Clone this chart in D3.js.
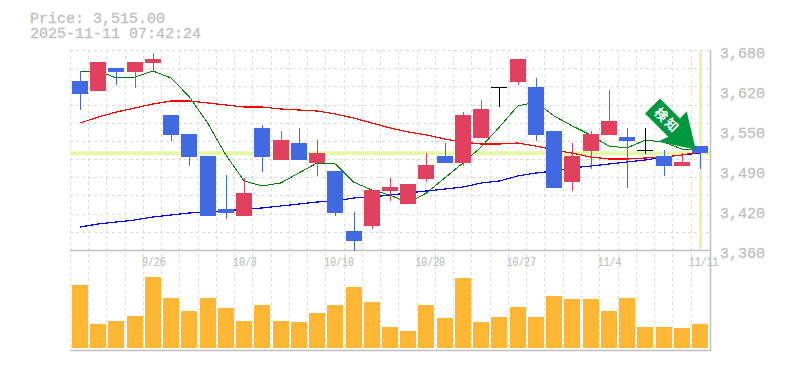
<!DOCTYPE html>
<html>
<head>
<meta charset="utf-8">
<script src="https://cdn.jsdelivr.net/npm/d3@7"></script>
<style>
  body { margin: 0; background: #fff; }
  text { font-family: "Liberation Mono", monospace; fill: #c0c0c0; }
</style>
</head>
<body>
<svg id="chart" width="785" height="370" style="display:block"></svg>
<script>
// Daily candles, close > open is red, close < open is blue, flat is black
var dates = ["9/19","9/22","9/24","9/25","9/26","9/29","9/30","10/1","10/2","10/3","10/6","10/7","10/8","10/9","10/10","10/14","10/15","10/16","10/17","10/20","10/21","10/22","10/23","10/24","10/27","10/28","10/29","10/30","10/31","11/4","11/5","11/6","11/7","11/10","11/11"];
var opens = [3630.4,3614.4,3651.2,3644.8,3659.2,3576,3545.6,3510.4,3425.6,3414.4,3555.2,3504,3531.2,3499.2,3486.4,3390.4,3398.4,3454.4,3433.6,3473.6,3510.4,3499.2,3539.2,3620.8,3628.8,3620.8,3550.4,3468.8,3518.4,3544,3540.8,3520,3510.4,3494.4,3526.4];
var highs = [3646.4,3660.8,3651.2,3660.8,3675.2,3576,3545.6,3510.4,3480,3475.2,3560,3550.4,3555.2,3536,3486.4,3420.8,3456,3475.2,3465.6,3515,3531.2,3580.8,3600,3620.8,3665.6,3635.2,3550.4,3531.2,3550.4,3616,3555.2,3555.2,3520,3515,3526.4];
var lows = [3584,3614.4,3624,3619.2,3644.8,3534.4,3494.4,3414.4,3409.6,3414.4,3484.8,3504,3504,3478.4,3414.4,3358.4,3393.6,3438.4,3433.6,3468.8,3499.2,3494.4,3539.2,3588.8,3624,3534.4,3459.2,3454.4,3489.6,3544,3459.2,3513.6,3478.4,3494.4,3489.6];
var closes = [3609.6,3660.8,3644.8,3660.8,3665.6,3544,3508.8,3414.4,3419.2,3451.2,3508.8,3536,3504,3515,3419.2,3374.4,3456,3460.8,3465.6,3496,3499.2,3576,3585.6,3620.8,3665.6,3544,3459.2,3510.4,3545.6,3566.4,3534.4,3520,3494.4,3500.8,3515];

// Moving averages
var maShort = [3646.4,3646.4,3635.2,3636.8,3646.4,3635.2,3604.8,3563.2,3512,3470.4,3462.4,3467.2,3483.2,3499.2,3497.6,3468.8,3456,3448,3435.2,3451.2,3475.2,3499.2,3524.8,3556.8,3590.4,3596.8,3574.4,3558.4,3544,3526.4,3523.2,3536,3532.8,3521.6,3520];
var maMid = [3563.2,3572.8,3580.8,3587.2,3593.6,3598.4,3598.4,3595.2,3592,3588.8,3588.8,3585.6,3584,3582.4,3577.6,3571.2,3563.2,3555.2,3548.8,3544,3537.6,3532.8,3529.6,3529.6,3531.2,3526.4,3520,3515,3508.8,3505.6,3505.6,3507.2,3508.8,3512,3516.8];
var maLong = [3396.8,3401.6,3404.8,3408,3412.8,3416,3419.2,3420.8,3422.4,3425.6,3427.2,3430.4,3433.6,3436.8,3438.4,3443.2,3444.8,3448,3451.2,3454.4,3457.6,3460.8,3467.2,3470.4,3478.4,3483.2,3486.4,3491.2,3494.4,3497.6,3500.8,3504,3508.8,3512,3515];

var volumes = [630,240,270,320,710,500,370,500,400,270,430,270,260,350,430,610,460,210,170,430,300,700,260,310,410,310,520,490,490,370,500,210,210,200,240];

var priceTicks = [3680,3616,3552,3488,3424,3360];
var dateLabels = ["9/26","10/3","10/10","10/20","10/27","11/4","11/11"];
var lastPrice = 3515;
var stamp = "2025-11-11 07:42:24";

var margin = {top: 50, right: 75, bottom: 20, left: 70},
    width = 785 - margin.left - margin.right,
    priceHeight = 200,
    volumeTop = 277,
    volumeBottom = 348,
    bottomLine = 350;

var svg = d3.select("#chart")
  .append("g")
    .attr("transform", `translate(${margin.left},0)`);

// Scales, candles sit between the grid lines
var x = d3.scalePoint().domain(dates).range([10, 630]);
var y = d3.scaleLinear().domain([3360, 3680]).range([margin.top + priceHeight, margin.top]);
var yVol = d3.scaleLinear().domain([0, d3.max(volumes)]).range([volumeBottom, volumeTop]);
var gridX = d3.scaleLinear().domain([0, 35]).range([0.3, 639.3]);
var gridY = d3.scaleLinear().domain([0, 11]).range([margin.top, margin.top + priceHeight]);

// Dotted grid
svg.append("g").selectAll("line")
    .data(d3.range(0, 35))
  .enter().append("line")
    .attr("x1", d => Math.floor(gridX(d)) + 0.5)
    .attr("x2", d => Math.floor(gridX(d)) + 0.5)
    .attr("y1", margin.top)
    .attr("y2", bottomLine)
    .attr("stroke", "#dcdcdc")
    .attr("stroke-dasharray", "3,3");

svg.append("g").selectAll("line")
    .data(d3.range(0, 11))
  .enter().append("line")
    .attr("x1", 0)
    .attr("x2", width)
    .attr("y1", d => Math.round(gridY(d)) + 0.5)
    .attr("y2", d => Math.round(gridY(d)) + 0.5)
    .attr("stroke", "#dcdcdc")
    .attr("stroke-dasharray", "3,3");

// Current price / current date markers
svg.append("line")
    .attr("x1", 0).attr("x2", width)
    .attr("y1", y(lastPrice)).attr("y2", y(lastPrice))
    .attr("stroke", "#e6f7aa")
    .attr("stroke-width", 4);

svg.append("line")
    .attr("x1", x(dates[34]) + 0.5).attr("x2", x(dates[34]) + 0.5)
    .attr("y1", margin.top + 1).attr("y2", margin.top + priceHeight - 1)
    .attr("stroke", "#e6f7aa")
    .attr("stroke-width", 3);

// Frame
svg.append("line").attr("x1", 0).attr("x2", width + 1).attr("y1", margin.top + priceHeight + 0.5).attr("y2", margin.top + priceHeight + 0.5).attr("stroke", "#c0c0c0").attr("stroke-width", 1.5);
svg.append("line").attr("x1", 0).attr("x2", width + 1).attr("y1", bottomLine + 0.5).attr("y2", bottomLine + 0.5).attr("stroke", "#c0c0c0").attr("stroke-width", 1.5);
svg.append("line").attr("x1", width + 0.5).attr("x2", width + 0.5).attr("y1", margin.top).attr("y2", bottomLine).attr("stroke", "#c0c0c0").attr("stroke-width", 1.5);

// Moving average lines
var line = d3.line()
    .x((d, i) => x(dates[i]))
    .y(d => y(d));

[[maLong, "#0000ff", 1.2], [maMid, "#ff0000", 1.2], [maShort, "#008000", 1]].forEach(function(s) {
    svg.append("path")
        .datum(s[0])
        .attr("d", line)
        .attr("fill", "none")
        .attr("stroke", s[1])
        .attr("stroke-width", s[2])
        .attr("shape-rendering", "crispEdges");
});

// Candles
function candleColor(i) {
    if (closes[i] > opens[i]) return "#e2405f";
    if (closes[i] < opens[i]) return "#4169e1";
    return "#000000";
}

var candles = svg.append("g").selectAll("g")
    .data(dates)
  .enter().append("g");

candles.append("line")
    .attr("x1", d => Math.round(x(d)) + 0.5)
    .attr("x2", d => Math.round(x(d)) + 0.5)
    .attr("y1", (d, i) => Math.round(y(highs[i])))
    .attr("y2", (d, i) => Math.round(y(lows[i])))
    .attr("stroke", (d, i) => candleColor(i));

candles.append("rect")
    .attr("x", d => Math.round(x(d)) - 8)
    .attr("width", 16)
    .attr("y", (d, i) => Math.round(y(Math.max(opens[i], closes[i]))))
    .attr("height", (d, i) => Math.max(1, Math.round(y(Math.min(opens[i], closes[i]))) - Math.round(y(Math.max(opens[i], closes[i])))))
    .attr("fill", (d, i) => candleColor(i));

// Volume bars
svg.append("g").selectAll("rect")
    .data(volumes)
  .enter().append("rect")
    .attr("x", (d, i) => Math.round(x(dates[i])) - 8)
    .attr("width", 16)
    .attr("y", d => Math.round(yVol(d)))
    .attr("height", d => volumeBottom - Math.round(yVol(d)))
    .attr("fill", "#ffb733");

// Price axis
var yAxis = d3.axisRight(y)
    .tickValues(priceTicks)
    .tickSize(0)
    .tickPadding(10)
    .tickFormat(d => d3.format(",")(Math.round(d / 10) * 10));

svg.append("g")
    .attr("transform", `translate(${width},0)`)
    .call(yAxis)
    .call(g => g.select(".domain").remove())
    .selectAll("text")
    .attr("dy", "0.48em")
    .style("font-family", '"Liberation Mono", monospace')
    .style("font-size", "15px")
    .style("stroke", "#c0c0c0")
    .style("stroke-width", 0.3);

// Date labels, tall narrow letters like the original
svg.append("g").selectAll("text")
    .data(dateLabels)
  .enter().append("text")
    .attr("x", d => x(d) - 11)
    .attr("y", 266)
    .attr("textLength", d => d.length * 5.9)
    .attr("lengthAdjust", "spacingAndGlyphs")
    .style("font-size", "13px")
    .style("stroke", "#c0c0c0")
    .style("stroke-width", 0.2)
    .text(d => d);

// Header
[["Price: " + d3.format(",.2f")(lastPrice), 23], [stamp, 38]].forEach(function(t) {
    d3.select("#chart").append("text")
        .attr("x", 30).attr("y", t[1])
        .style("font-size", "15px")
        .style("stroke", "#c0c0c0")
        .style("stroke-width", 0.3)
        .text(t[0]);
});

// Detection arrow, placed relative to the last candle
var arrow = svg.append("g")
    .attr("transform", `translate(${x(dates[34])},${y(lastPrice)})`);

arrow.append("polygon")
    .attr("points", "-40,-54.7 -55,-39.7 -31.7,-16.3 -42.3,-11.3 -4.3,-3.7 -13.3,-42 -20,-34.7")
    .attr("fill", "#00983f");

arrow.append("text")
    .attr("transform", "translate(-33,-32.5) rotate(45)")
    .attr("text-anchor", "middle")
    .attr("dy", "0.35em")
    .style("font-family", '"Noto Sans CJK JP", sans-serif')
    .style("font-size", "13px")
    .style("font-weight", "700")
    .style("letter-spacing", "2px")
    .style("fill", "#ffffff")
    .text("検知");
</script>
</body>
</html>
